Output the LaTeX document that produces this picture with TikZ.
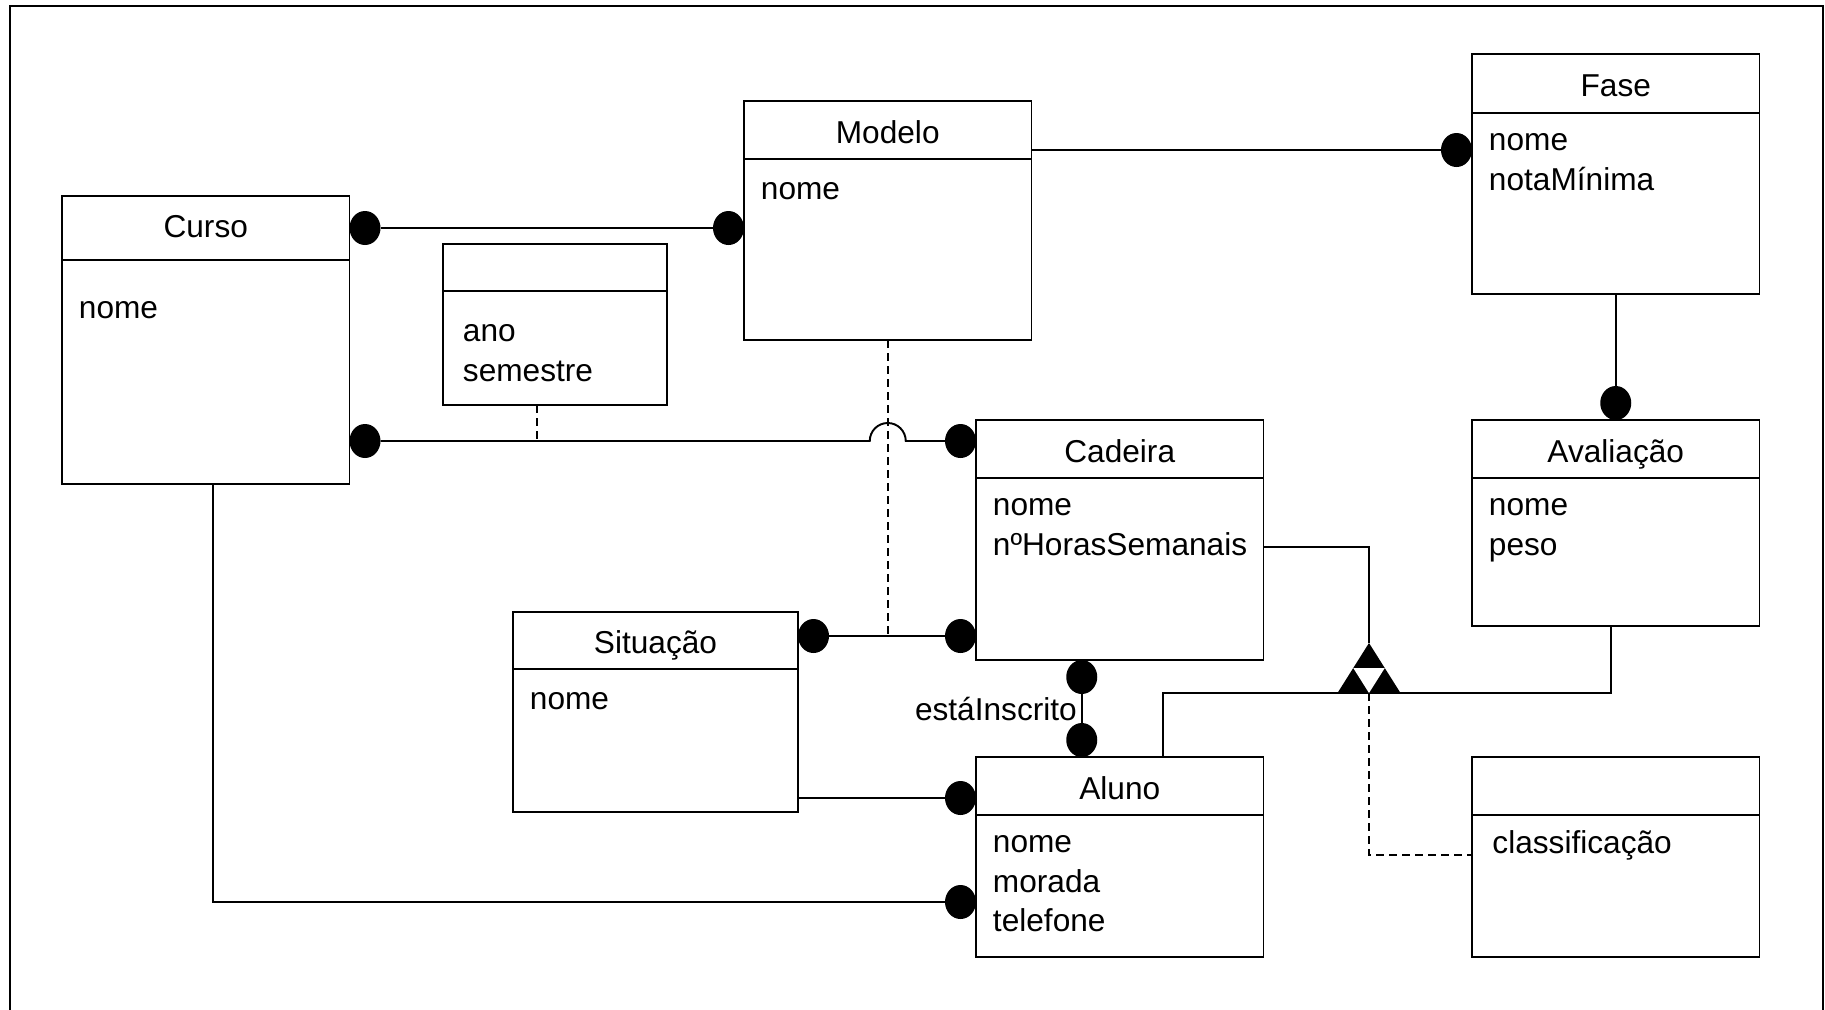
\documentclass[tikz,border=0pt]{standalone}
\usepackage{fontspec}
\setmainfont{Liberation Sans}
\usetikzlibrary{positioning, shapes.geometric, calc}

\newcommand{\umlfont}{\fontsize{18}{22.3}\selectfont}

\tikzset{
  classhead/.style={draw, outer sep=0pt, inner sep=0pt, anchor=north west, minimum width=5.75cm, minimum height=1.16cm, font=\umlfont, text height=15pt, text depth=0pt},
  classbody/.style={draw, outer sep=0pt, inner sep=0pt, minimum width=5.75cm},
  attrs/.style={inner sep=0pt, align=left, font=\umlfont, execute at begin node=\strut},
  assocdot/.style={ellipse, fill, inner sep=0pt, outer sep=0pt, minimum width=0.62cm, minimum height=0.68cm},
  dep/.style={dash pattern=on 0.16cm off 0.1cm},
}

\begin{document}
\begin{tikzpicture}[line width=1.1pt]
    \useasboundingbox (0,0) rectangle (36.5,-20.2);
    \draw[line width=1.3pt] (0.2,-20.2) -- (0.2,-0.12) -- (36.46,-0.12) -- (36.46,-20.2);

    % Classes
    \node[classhead, minimum height=1.28cm, text height=11pt] (curso) at (1.24,-3.92) {Curso};
    \node[classbody, minimum height=4.48cm, below=0pt of curso] (curso-b) {};
    \node[attrs, below right=0.60cm and 0.32cm of curso-b.north west] {nome};

    \node[classhead] (modelo) at (14.88,-2.02) {Modelo};
    \node[classbody, minimum height=3.62cm, below=0pt of modelo] (modelo-b) {};
    \node[attrs, below right=0.24cm and 0.32cm of modelo-b.north west] {nome};

    \node[classhead, minimum height=1.18cm] (fase) at (29.44,-1.08) {Fase};
    \node[classbody, minimum height=3.62cm, below=0pt of fase] (fase-b) {};
    \node[attrs, below right=0.40cm and 0.32cm of fase-b.north west] {nome\\notaMínima};

    \node[classhead, minimum width=4.48cm, minimum height=0.94cm] (assoc) at (8.86,-4.88) {};
    \node[classbody, minimum width=4.48cm, minimum height=2.28cm, below=0pt of assoc] (assoc-b) {};
    \node[attrs, below right=0.66cm and 0.38cm of assoc-b.north west] {ano\\semestre};

    \node[classhead] (cad) at (19.52,-8.40) {Cadeira};
    \node[classbody, minimum height=3.64cm, below=0pt of cad] (cad-b) {};
    \node[attrs, below right=0.40cm and 0.32cm of cad-b.north west] {nome\\nºHorasSemanais};

    \node[classhead, below=2.52cm of fase-b] (aval) {Avaliação};
    \node[classbody, minimum height=2.96cm, below=0pt of aval] (aval-b) {};
    \node[attrs, below right=0.40cm and 0.32cm of aval-b.north west] {nome\\peso};

    \node[classhead, below=2.62cm of aval-b] (cls) {};
    \node[classbody, minimum height=2.84cm, below=0pt of cls] (cls-b) {};
    \node[attrs, below right=0.21cm and 0.39cm of cls-b.north west] {classificação};

    \node[classhead, minimum width=5.7cm, minimum height=1.14cm] (sit) at (10.26,-12.24) {Situação};
    \node[classbody, minimum width=5.7cm, minimum height=2.86cm, below=0pt of sit] (sit-b) {};
    \node[attrs, below right=0.24cm and 0.32cm of sit-b.north west] {nome};

    \node[classhead, below=1.94cm of cad-b] (alu) {Aluno};
    \node[classbody, minimum height=2.84cm, below=0pt of alu] (alu-b) {};
    \node[attrs, below right=0.40cm and 0.32cm of alu-b.north west] {nome\\morada\\telefone};

    % Associations
    \node[assocdot, anchor=west] (d-cm1) at (curso.east) {};
    \node[assocdot, anchor=east] (d-cm2) at (d-cm1 -| modelo-b.west) {};
    \draw (d-cm1) -- (d-cm2);

    \node[assocdot, anchor=east] (d-mf) at ([yshift=1.07cm]fase-b.west) {};
    \draw (d-mf) -- (d-mf -| modelo.east);

    \node[assocdot, anchor=south] (d-fa) at (aval.north) {};
    \draw (fase-b.south) -- (d-fa);

    \node[assocdot, anchor=east] (d-sc2) at ([yshift=-1.34cm]cad-b.west) {};
    \node[assocdot, anchor=west] (d-sc1) at (sit.east |- d-sc2) {};
    \draw (d-sc1) -- (d-sc2);
    \draw[dep] (modelo-b.south) -- (modelo-b.south |- d-sc2);

    \node[assocdot, anchor=east] (d-cc2) at ([yshift=0.16cm]cad.west) {};
    \node[assocdot, anchor=west] (d-cc1) at (curso-b.east |- d-cc2) {};
    \coordinate (hop) at (modelo-b.south |- d-cc2);
    \draw (d-cc1) -- ([xshift=-0.36cm]hop) arc[start angle=180, end angle=0, radius=0.36cm] -- (d-cc2);
    \coordinate (assoc-foot) at ([xshift=-0.36cm]assoc-b.south);
    \draw[dep] (assoc-foot) -- (assoc-foot |- d-cc1);

    \node[assocdot, anchor=east] (d-sa) at ([yshift=-0.24cm]alu.west) {};
    \draw (d-sa) -- (d-sa -| sit-b.east);

    \node[assocdot, anchor=east] (d-ca) at ([yshift=-0.32cm]alu-b.west) {};
    \draw ([xshift=0.14cm]curso-b.south) |- (d-ca);

    \node[assocdot, anchor=north] (d-in1) at ([xshift=-0.76cm]cad-b.south) {};
    \node[assocdot, anchor=south] (d-in2) at ([xshift=-0.76cm]alu.north) {};
    \draw (d-in1) -- (d-in2);
    \node[anchor=east, inner sep=0pt, font=\umlfont] (insc) at ($(d-in1)!0.5!(d-in2)+(-0.08,0)$) {estáInscrito};

    % Generalization
    \coordinate (gen) at (27.38,-12.86);
    \coordinate (gen-base) at ($(gen)+(0,-1)$);
    \draw ([yshift=0.44cm]cad-b.east) -| (gen);
    \draw ([xshift=0.86cm]alu.north) |- (gen-base) -| ([xshift=-0.1cm]aval-b.south);
    \draw[dep] (gen-base) |- ([yshift=0.62cm]cls-b.west);
    \fill (gen) -- ++(-0.63,-1) -- ++(1.26,0) -- cycle;
    \fill[white] ($(gen)+(-0.315,-0.5)$) -- ++(0.63,0) -- (gen-base) -- cycle;
\end{tikzpicture}
\end{document}
